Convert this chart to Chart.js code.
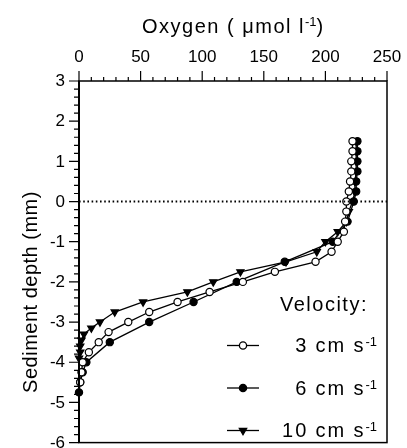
<!DOCTYPE html>
<html>
<head>
<meta charset="utf-8">
<script src="https://cdn.jsdelivr.net/npm/chart.js@4.4.1/dist/chart.umd.min.js"></script>
<style>
  html, body { margin: 0; padding: 0; background: #fff; }
  #wrap { width: 407px; height: 448px; }
</style>
</head>
<body>
<div id="wrap"><canvas id="myChart" width="407" height="448"></canvas></div>
<script>
/* oxygen profiles, depth in mm, oxygen in umol/l */
const depth_3cm = [1.5, 1.25, 1, 0.75, 0.5, 0.25, 0, -0.25, -0.5, -0.75, -1, -1.25, -1.5, -1.75, -2, -2.25, -2.5, -2.75, -3, -3.25, -3.5, -3.75, -4, -4.25, -4.5];
const oxygen_3cm = [222, 222, 221, 221, 220, 219, 217, 217, 216, 215, 210, 205, 192, 159, 133, 106, 80, 57, 40, 24, 16, 8, 3, 2, 1];

const depth_6cm = [1.5, 1.25, 1, 0.75, 0.5, 0.25, 0, -0.5, -1, -1.5, -2, -2.5, -3, -3.5, -4, -4.25, -4.5, -4.75];
const oxygen_6cm = [226, 226, 226, 226, 225, 225, 223, 218, 206, 167, 128, 93, 57, 25, 6, 3, 1, 0];

const depth_10cm = [1.5, 1.25, 1, 0.75, 0.5, 0.25, 0, -0.25, -0.5, -0.75, -1, -1.25, -1.5, -1.75, -2, -2.25, -2.5, -2.75, -3, -3.15, -3.3, -3.45, -3.6, -3.75, -3.9];
const oxygen_10cm = [225, 225, 225, 225, 224, 224, 222, 219, 217, 210, 200, 193, 168, 131, 109, 88, 52, 29, 17, 10, 4, 2, 1, 1, 0];

/* sediment surface line */
const surfaceX = [0, 250];
const surfaceY = [0, 0];

/* axis ticks and labels */
const xTicks = [0, 50, 100, 150, 200, 250];
const yTicks = [3, 2, 1, 0, -1, -2, -3, -4, -5, -6];
const xTitle = 'Oxygen ( \u03bcmol l';
const yTitle = 'Sediment depth (mm)';
const legendTitle = 'Velocity:';
const velocityLabels = ['3', '6', '10'];

const FONT = '"Liberation Sans", Arial, Helvetica, sans-serif';

const toPoints = (xs, ys) => xs.map((x, i) => ({ x: x, y: ys[i] }));

const series = [
  { label: '3 cm s-1', data: toPoints(oxygen_3cm, depth_3cm), pointStyle: 'circle', fill: '#fff', radius: 3.6, rotation: 0 },
  { label: '6 cm s-1', data: toPoints(oxygen_6cm, depth_6cm), pointStyle: 'circle', fill: '#000', radius: 3.6, rotation: 0 },
  { label: '10 cm s-1', data: toPoints(oxygen_10cm, depth_10cm), pointStyle: 'triangle', fill: '#000', radius: 4.2, rotation: 180 },
];

/* draw text pieces with superscript parts */
function drawPieces(ctx, pieces, x, y, align) {
  let total = 0;
  pieces.forEach((p) => {
    ctx.font = p.size + 'px ' + FONT;
    ctx.letterSpacing = (p.spacing || 0) + 'px';
    p.w = ctx.measureText(p.text).width;
    total += p.w;
  });
  let cx = align === 'right' ? x - total : (align === 'center' ? x - total / 2 : x);
  ctx.textAlign = 'left';
  pieces.forEach((p) => {
    ctx.font = p.size + 'px ' + FONT;
    ctx.letterSpacing = (p.spacing || 0) + 'px';
    ctx.fillText(p.text, cx, y - (p.rise || 0));
    cx += p.w;
  });
  ctx.letterSpacing = '0px';
}

const framePlugin = {
  id: 'frame',
  afterDraw(chart) {
    const ctx = chart.ctx;
    const area = chart.chartArea;
    const xs = chart.scales.x;
    const ys = chart.scales.y;
    ctx.save();
    ctx.strokeStyle = '#000';
    ctx.fillStyle = '#000';

    /* frame */
    ctx.lineWidth = 1.5;
    ctx.strokeRect(area.left, area.top, area.right - area.left, area.bottom - area.top);
    ctx.lineWidth = 2;
    ctx.beginPath();
    ctx.moveTo(area.left, area.top);
    ctx.lineTo(area.left, area.bottom);
    ctx.stroke();

    /* tick marks, outside */
    ctx.lineWidth = 1.2;
    ctx.beginPath();
    for (let v = 0; v <= 250; v += 10) {
      const px = xs.getPixelForValue(v);
      const len = v % 50 === 0 ? 10 : 4;
      ctx.moveTo(px, area.top);
      ctx.lineTo(px, area.top - len);
    }
    for (let i = 0; i <= 45; i++) {
      const v = -6 + i * 0.2;
      const py = ys.getPixelForValue(v);
      const len = i % 5 === 0 ? 10 : 5;
      ctx.moveTo(area.left, py);
      ctx.lineTo(area.left - len, py);
    }
    ctx.stroke();

    /* tick labels */
    ctx.font = '17px ' + FONT;
    ctx.textBaseline = 'middle';
    ctx.textAlign = 'center';
    xTicks.forEach((v) => {
      ctx.fillText(String(v), xs.getPixelForValue(v), 57);
    });
    ctx.textAlign = 'right';
    yTicks.forEach((v) => {
      ctx.fillText(String(v), 65, ys.getPixelForValue(v) + 0.5);
    });

    /* titles */
    ctx.textBaseline = 'alphabetic';
    drawPieces(ctx, [
      { text: xTitle, size: 20, spacing: 1.5 },
      { text: '-1', size: 13, rise: 7 },
      { text: ')', size: 20 },
    ], 142, 33, 'left');

    ctx.save();
    ctx.translate(37, 292);
    ctx.rotate(-Math.PI / 2);
    drawPieces(ctx, [{ text: yTitle, size: 20, spacing: 0.5 }], 0, 0, 'center');
    ctx.restore();

    /* legend */
    drawPieces(ctx, [{ text: legendTitle, size: 20, spacing: 1.5 }], 280, 311, 'left');
    const rowY = [345.5, 388, 430.5];
    series.forEach((s, i) => {
      const y = rowY[i];
      ctx.lineWidth = 1.3;
      ctx.strokeStyle = '#000';
      ctx.beginPath();
      ctx.moveTo(227, y);
      ctx.lineTo(259, y);
      ctx.stroke();
      ctx.fillStyle = s.fill;
      Chart.helpers.drawPoint(ctx, { pointStyle: s.pointStyle, radius: s.radius, rotation: s.rotation, borderWidth: 1.2 }, 243, y);
      ctx.fillStyle = '#000';
      drawPieces(ctx, [
        { text: velocityLabels[i] + ' cm s', size: 20, spacing: 1.9 },
        { text: '-1', size: 13, rise: 6 },
      ], 377, y + 6.5, 'right');
    });
    ctx.restore();
  },
};

const datasets = series.map((s) => ({
  label: s.label,
  data: s.data,
  showLine: true,
  borderColor: '#000',
  borderWidth: 1.3,
  pointStyle: s.pointStyle,
  pointRotation: s.rotation,
  pointRadius: s.radius,
  pointBackgroundColor: s.fill,
  pointBorderColor: '#000',
  pointBorderWidth: 1.2,
  clip: false,
}));

datasets.unshift({
  label: 'surface',
  data: toPoints(surfaceX, surfaceY),
  showLine: true,
  borderColor: '#000',
  borderWidth: 2,
  borderDash: [1.6, 2.6],
  pointRadius: 0,
});

const config = {
  type: 'scatter',
  data: { datasets: datasets },
  options: {
    responsive: false,
    animation: false,
    devicePixelRatio: 1,
    layout: { padding: { top: 0, right: 20, bottom: 4, left: 0 } },
    plugins: {
      legend: { display: false },
      tooltip: { enabled: false },
    },
    scales: {
      x: {
        type: 'linear',
        position: 'top',
        min: 0,
        max: 250,
        afterFit: (s) => { s.height = 81; },
        afterBuildTicks: (s) => { s.ticks = xTicks.map((v) => ({ value: v })); },
        grid: { display: false, drawTicks: false },
        border: { display: false },
        ticks: { display: false },
      },
      y: {
        type: 'linear',
        min: -6,
        max: 3,
        afterFit: (s) => { s.width = 79; },
        afterBuildTicks: (s) => { s.ticks = yTicks.map((v) => ({ value: v })); },
        grid: { display: false, drawTicks: false },
        border: { display: false },
        ticks: { display: false },
      },
    },
  },
  plugins: [framePlugin],
};

new Chart(document.querySelector('#myChart'), config);
</script>
</body>
</html>
